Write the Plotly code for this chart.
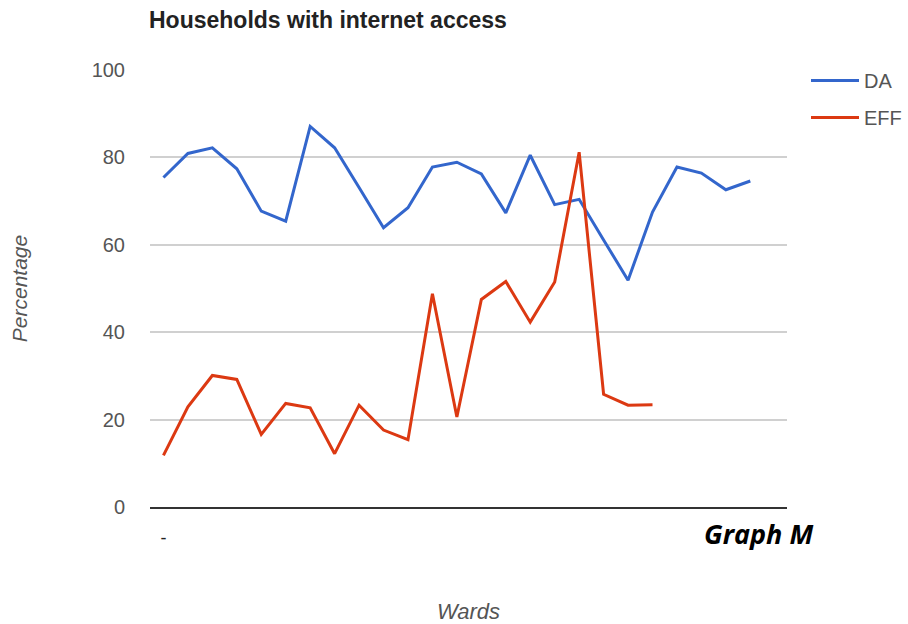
import plotly.graph_objects as go

# Wards along the x axis (26 slots; DA has 25 values, EFF has 21)
wards = list(range(26))
tick_labels = ["-"]

da = [75.4, 80.9, 82.2, 77.4, 67.7, 65.4, 87.1, 82.2, 73.1, 63.9, 68.5, 77.8, 78.9,
      76.2, 67.3, 80.5, 69.2, 70.4, 61.1, 51.9, 67.5, 77.8, 76.4, 72.6, 74.6]
eff = [11.8, 22.9, 30.1, 29.2, 16.6, 23.7, 22.7, 12.2, 23.3, 17.6, 15.4, 48.8, 20.6,
       47.5, 51.6, 42.3, 51.5, 81.2, 25.8, 23.3, 23.4]

BLUE = "#3366cc"
RED = "#dc3912"
GREY_TEXT = "#555555"

fig = go.Figure()
fig.add_trace(go.Scatter(x=wards[:len(da)], y=da, mode="lines", name="DA",
                         legendgroup="da", line=dict(color=BLUE, width=3)))
fig.add_trace(go.Scatter(x=wards[:len(eff)], y=eff, mode="lines", name="EFF",
                         legendgroup="eff", line=dict(color=RED, width=3)))

fig.update_layout(
    width=908, height=624,
    margin=dict(l=150, r=121, t=70, b=117, autoexpand=False),
    paper_bgcolor="white", plot_bgcolor="white",
    font=dict(family="Arial, Liberation Sans, sans-serif", color=GREY_TEXT),
    title=dict(text="<b>Households with internet access</b>",
               x=149 / 908, xanchor="left", y=1 - 20 / 624, yanchor="middle",
               font=dict(size=23, color="#222222")),
    legend=dict(x=(806 - 150) / 637, xanchor="left", y=1 + 9 / 437, yanchor="top",
                font=dict(size=20, color=GREY_TEXT), itemwidth=48,
                traceorder="grouped", tracegroupgap=8, bgcolor="rgba(0,0,0,0)"),
    showlegend=True,
)

fig.update_xaxes(
    range=[-0.55, 25.5],
    tickmode="array", tickvals=[0], ticktext=tick_labels,
    tickfont=dict(size=18, color="#222222"), ticklabelstandoff=13,
    showgrid=False, zeroline=False,
    showline=True, linecolor="#333333", linewidth=2,
    title=dict(text="<i>Wards</i>", font=dict(size=22, color=GREY_TEXT), standoff=57),
)
fig.update_yaxes(
    range=[0, 100], tickvals=[0, 20, 40, 60, 80, 100],
    tickfont=dict(size=20, color=GREY_TEXT), ticklabelstandoff=24,
    showgrid=True, gridcolor="#d0d0d0", gridwidth=2, zeroline=False,
    title=dict(text="<i>Percentage</i>", font=dict(size=21, color=GREY_TEXT), standoff=58),
)

fig.add_annotation(text="<b><i>Graph M</i></b>", xref="paper", yref="paper",
                   x=(702 - 150) / 637, xanchor="left", y=-(533 - 507) / 437,
                   yanchor="middle", showarrow=False,
                   font=dict(family="Open Sans, Noto Sans, sans-serif", size=27, color="#000000"))

fig.write_html("out.html")
